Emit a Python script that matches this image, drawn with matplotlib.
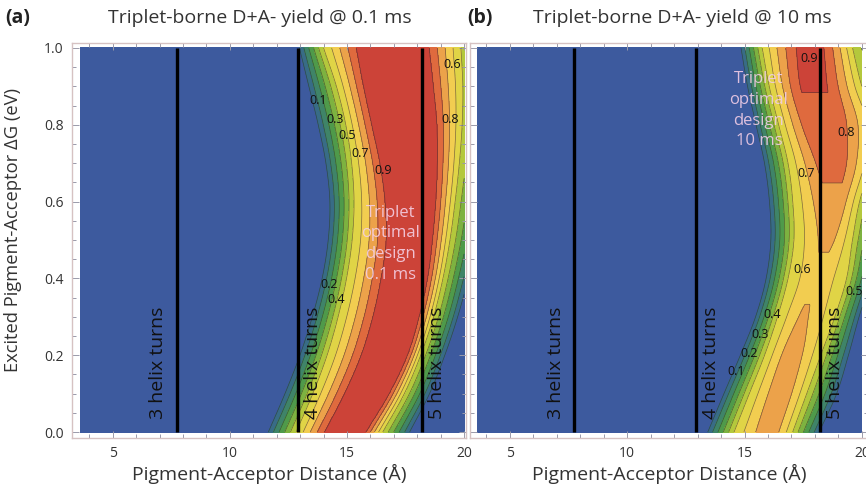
import numpy as np
import matplotlib
matplotlib.use("Agg")
import matplotlib.pyplot as plt
from matplotlib.ticker import MultipleLocator, FormatStrFormatter

plt.rcParams['font.family'] = ['Open Sans', 'DejaVu Sans']

dg_rows = [0.0, 0.1, 0.2, 0.3, 0.4, 0.5, 0.6, 0.7, 0.8, 0.9, 1.0]

# panel (a), 0.1 ms: distances (A) where the yield reaches 0 / 0.5 / 0.9 on each side
a_edge_l = [11.62, 12.33, 12.97, 13.50, 13.92, 14.18, 14.25, 14.08, 13.75, 13.35, 12.95]
a_half_l = [12.83, 13.54, 14.15, 14.62, 14.98, 15.22, 15.30, 15.20, 14.95, 14.55, 14.00]
a_top_l = [14.04, 14.89, 15.60, 16.10, 16.45, 16.67, 16.62, 16.40, 16.05, 15.70, 15.39]
a_top_r = [15.82, 16.81, 17.59, 18.09, 18.45, 18.66, 18.80, 18.87, 18.85, 18.70, 18.52]
a_half_r = [16.53, 17.45, 18.15, 18.70, 19.10, 19.40, 19.62, 19.80, 19.92, 19.95, 19.87]
a_edge_r = [17.70, 18.55, 19.20, 19.75, 20.20, 20.60, 20.90, 21.15, 21.30, 21.40, 21.40]

# panel (b), 10 ms: left edge, 0.5 crossing, ridge centre / half-width / height, 0.5 crossing, right edge
b_edge_l = [13.41, 14.10, 14.80, 15.45, 15.90, 16.10, 16.04, 15.83, 15.47, 15.11, 14.83]
b_half_l = [14.55, 15.20, 15.85, 16.40, 16.85, 17.10, 17.05, 16.85, 16.45, 16.05, 15.75]
b_ridge = [16.05, 16.55, 17.00, 17.50, 18.05, 18.50, 18.70, 18.70, 18.35, 17.95, 17.80]
b_flat = [0.10, 0.10, 0.10, 0.10, 0.15, 0.25, 0.35, 0.50, 0.60, 0.55, 0.45]
b_peak = [0.775, 0.78, 0.765, 0.715, 0.68, 0.715, 0.77, 0.83, 0.87, 0.905, 0.93]
b_half_r = [17.05, 17.65, 18.25, 18.85, 19.35, 19.60, 19.90, 20.40, 20.60, 20.00, 19.60]
b_edge_r = [18.20, 18.95, 19.45, 19.90, 20.40, 20.80, 21.20, 21.80, 22.10, 21.80, 21.50]

contour_levels = [0.01, 0.1, 0.2, 0.3, 0.4, 0.5, 0.6, 0.7, 0.8, 0.9]
band_colors = ['#3d5a9e', '#386c86', '#3f8468', '#4f9a4a', '#7db240', '#b4c83c',
               '#e0d446', '#f2cd50', '#eca24a', '#df6a3e', '#cc4338']

helix_turns = [3, 4, 5]
helix_dist = [7.75, 12.92, 18.2]

xx = np.linspace(3.6, 20.0, 700)
yy = np.linspace(0.0, 1.0, 400)


def at_rows(arr):
    # smooth cubic (Catmull-Rom) curve through the values read at each row
    p = np.asarray(arr, float)
    p = np.concatenate([[2 * p[0] - p[1]], p, [2 * p[-1] - p[-2]]])
    s = yy / 0.1
    i = np.clip(np.floor(s).astype(int), 0, len(arr) - 2)
    t = s - i
    p0, p1, p2, p3 = p[i], p[i + 1], p[i + 2], p[i + 3]
    return 0.5 * (2 * p1 + (p2 - p0) * t + (2 * p0 - 5 * p1 + 4 * p2 - p3) * t ** 2
                  + (3 * p1 - p0 - 3 * p2 + p3) * t ** 3)


def field_a():
    e, m, a, b, rm, re = [at_rows(v) for v in (a_edge_l, a_half_l, a_top_l, a_top_r, a_half_r, a_edge_r)]
    z = np.zeros((len(yy), len(xx)))
    for i in range(len(yy)):
        kx = [e[i], m[i], a[i], 0.5 * (a[i] + b[i]), b[i], rm[i], re[i]]
        z[i] = np.interp(xx, kx, [0, 0.5, 0.9, 0.96, 0.9, 0.5, 0])
    return z


def field_b(bend=0.3):
    e, m, c, h, p, rm, re = [at_rows(v) for v in
                             (b_edge_l, b_half_l, b_ridge, b_flat, b_peak, b_half_r, b_edge_r)]
    t = np.linspace(0, 1, 25)
    shape = (1 - bend) * t + bend * (1 - (1 - t) ** 2)
    z = np.zeros((len(yy), len(xx)))
    for i in range(len(yy)):
        lo, hi = c[i] - h[i], c[i] + h[i]
        kx = np.concatenate([[e[i]], m[i] + t * (lo - m[i]), rm[i] - t[::-1] * (rm[i] - hi), [re[i]]])
        kv = np.concatenate([[0], 0.5 + (p[i] - 0.5) * shape, 0.5 + (p[i] - 0.5) * shape[::-1], [0]])
        z[i] = np.interp(xx, kx, kv)
    return z


fig = plt.figure(figsize=(8.66, 4.86), dpi=100)
ax_a = fig.add_axes([72 / 866, 48 / 486, 394 / 866, 395 / 486])
ax_b = fig.add_axes([470 / 866, 48 / 486, 398 / 866, 395 / 486])

panels = [
    (ax_a, field_a(), (3.258, 20.085)),
    (ax_b, field_b(), (3.30, 20.26)),
]

for ax, z, xlim in panels:
    ax.contourf(xx, yy, z, levels=[-1] + contour_levels + [2], colors=band_colors)
    ax.contour(xx, yy, z, levels=contour_levels, colors='#2a2a2a', linewidths=0.5, alpha=0.6)
    ax.vlines(helix_dist, 0, 1, colors='black', linewidth=2.4)
    for n, d, off in zip(helix_turns, helix_dist, [-0.8, 0.65, 0.65]):
        ax.text(d + off, 0.035, f"{n} helix turns", rotation=90, ha='center', va='bottom',
                fontsize=14, color='#111111')
    ax.set_xlim(*xlim)
    ax.set_ylim(-0.0156, 1.013)
    ax.xaxis.set_major_locator(MultipleLocator(5))
    ax.xaxis.set_minor_locator(MultipleLocator(1))
    ax.yaxis.set_major_locator(MultipleLocator(0.2))
    ax.yaxis.set_minor_locator(MultipleLocator(0.05))
    ax.yaxis.set_major_formatter(FormatStrFormatter('%.1f'))
    ax.tick_params(which='both', direction='in', top=True, right=True, color='#9a9aaa',
                   width=0.7, labelsize=10, labelcolor='#333333')
    ax.tick_params(which='major', length=5, pad=6)
    ax.tick_params(which='minor', length=3)
    for s in ax.spines.values():
        s.set_color('#d6c2c2')
        s.set_linewidth(1.0)
    ax.set_xlabel('Pigment-Acceptor Distance (Å)', fontsize=14, color='#333333', labelpad=2)

ax_b.tick_params(labelleft=False)
ax_a.set_ylabel('Excited Pigment-Acceptor ΔG (eV)', fontsize=13.2, color='#333333')
ax_a.yaxis.set_label_coords(-0.127, 0.527)

labels_a = [('0.1', 13.78, 0.863), ('0.3', 14.49, 0.815), ('0.5', 14.99, 0.772),
            ('0.7', 15.56, 0.724), ('0.9', 16.55, 0.682), ('0.2', 14.25, 0.385),
            ('0.4', 14.56, 0.346), ('0.6', 19.51, 0.956), ('0.8', 19.41, 0.815)]
labels_b = [('0.9', 17.75, 0.973), ('0.8', 19.32, 0.78), ('0.7', 17.61, 0.674),
            ('0.6', 17.46, 0.422), ('0.5', 19.67, 0.365), ('0.4', 16.18, 0.307),
            ('0.3', 15.68, 0.253), ('0.2', 15.19, 0.205), ('0.1', 14.62, 0.157)]
for ax, labs in [(ax_a, labels_a), (ax_b, labels_b)]:
    for s, x, y in labs:
        ax.text(x, y, s, ha='center', va='center', fontsize=9, color='#111111')

ax_a.text(16.85, 0.49, 'Triplet\noptimal\ndesign\n0.1 ms', ha='center', va='center',
          fontsize=12, color='#f4cfe3', alpha=0.9, linespacing=1.4)
ax_b.text(15.61, 0.838, 'Triplet\noptimal\ndesign\n10 ms', ha='center', va='center',
          fontsize=12, color='#f0cce6', alpha=0.9, linespacing=1.4)

fig.text(0.006, 0.963, '(a)', fontsize=14, fontweight='bold', color='#222222', va='center')
fig.text(0.300, 0.963, 'Triplet-borne D+A- yield @ 0.1 ms', fontsize=14, color='#333333',
         ha='center', va='center')
fig.text(0.539, 0.963, '(b)', fontsize=14, fontweight='bold', color='#222222', va='center')
fig.text(0.7875, 0.963, 'Triplet-borne D+A- yield @ 10 ms', fontsize=14, color='#333333',
         ha='center', va='center')

fig.savefig('out.png', dpi=100)
